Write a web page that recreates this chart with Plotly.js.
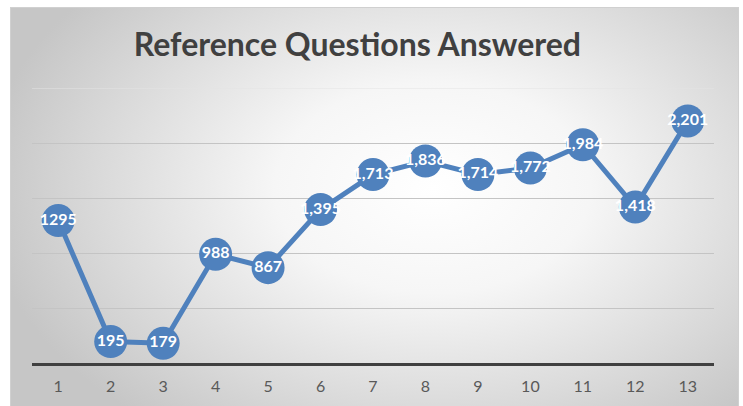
<!DOCTYPE html>
<html>
<head>
<meta charset="utf-8">
<script src="https://cdn.plot.ly/plotly-3.0.1.min.js"></script>
<style>
  html, body { margin: 0; padding: 0; background: #ffffff; }
  #wrap { position: relative; width: 743px; height: 406px; overflow: hidden; }
  #bg { position: absolute; left: 10px; top: 7px; width: 727px; height: 400px;
        border: 1px solid #d0d0d0;
        background: radial-gradient(ellipse 62% 75% at 58% 45%, #ffffff 0%, #f6f6f6 35%, #d9d9d9 75%, #c6c6c6 100%); }
  #chart { position: absolute; left: 0; top: 0; width: 743px; height: 406px; }
</style>
</head>
<body>
<div id="wrap"><div id="bg"></div><div id="chart"></div></div>
<script>
const categories = [1, 2, 3, 4, 5, 6, 7, 8, 9, 10, 11, 12, 13];
const answered = [1295, 195, 179, 988, 867, 1395, 1713, 1836, 1714, 1772, 1984, 1418, 2201];
const labels = ["1295", "195", "179", "988", "867", "1,395", "1,713", "1,836", "1,714", "1,772", "1,984", "1,418", "2,201"];

const trace = {
  x: categories,
  y: answered,
  text: labels,
  type: 'scatter',
  mode: 'lines+markers+text',
  line: { color: '#4f81bd', width: 5 },
  marker: { color: '#4f81bd', size: 33, line: { width: 0 } },
  textposition: 'middle center',
  textfont: { family: 'Lato, "Liberation Sans", sans-serif', size: 16, color: '#ffffff', weight: 'bold' },
  cliponaxis: false,
  hoverinfo: 'skip'
};

const layout = {
  width: 743, height: 406,
  margin: { l: 32, r: 29, t: 88, b: 43 },
  paper_bgcolor: 'rgba(0,0,0,0)',
  plot_bgcolor: 'rgba(0,0,0,0)',
  showlegend: false,
  title: {
    text: 'Reference Questions Answered',
    font: { family: 'Lato, "Open Sans", sans-serif', size: 32, color: '#404040', weight: 'bold' },
    x: 0.481, xanchor: 'center',
    y: 0.889, yanchor: 'middle', yref: 'container'
  },
  xaxis: {
    range: [0.5, 13.5],
    tickmode: 'array',
    tickvals: categories,
    ticktext: categories.map(String),
    showgrid: false,
    zeroline: false,
    showline: true,
    linecolor: '#404040',
    linewidth: 3,
    ticks: '',
    ticklabelstandoff: 7,
    tickfont: { family: 'Lato, "Open Sans", sans-serif', size: 16, color: '#595959' },
    fixedrange: true
  },
  yaxis: {
    range: [0, 2500],
    dtick: 500,
    tick0: 0,
    showticklabels: false,
    showgrid: true,
    gridcolor: '#c4c4c4',
    gridwidth: 1,
    zeroline: false,
    showline: false,
    ticks: '',
    fixedrange: true
  },
  shapes: [{
    type: 'line', xref: 'paper', yref: 'y', x0: 0, x1: 1, y0: 2500, y1: 2500,
    line: { color: '#e4e4e4', width: 1 }, layer: 'below'
  }]
};

Plotly.newPlot('chart', [trace], layout, { displayModeBar: false, staticPlot: true });
</script>
</body>
</html>
